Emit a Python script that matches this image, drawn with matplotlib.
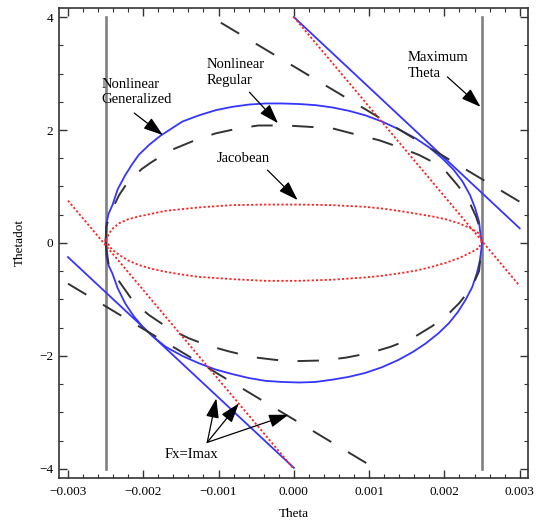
import numpy as np
import matplotlib
matplotlib.use('Agg')
import matplotlib.pyplot as plt
from matplotlib.ticker import MultipleLocator, FuncFormatter

plt.rcParams['font.family'] = ['Liberation Serif', 'DejaVu Serif']

# theta values are in units of 1e-3 (converted when plotting)
SCALE = 1e-3

# Nonlinear Generalized (blue solid closed curve)
gen_top_x = [-2.50, -2.49, -2.46, -2.41, -2.34, -2.24, -2.15, -2.06, -1.92, -1.77, -1.62, -1.48, -1.26,
             -1.04, -0.82, -0.60, -0.38, -0.16, 0.07, 0.29, 0.51, 0.73, 0.95, 1.17, 1.40, 1.62, 1.80,
             1.97, 2.12, 2.24, 2.34, 2.41, 2.46, 2.48, 2.50]
gen_top_y = [0.05, 0.35, 0.52, 0.67, 0.95, 1.20, 1.39, 1.56, 1.74, 1.90, 2.03, 2.15, 2.26,
             2.35, 2.41, 2.45, 2.47, 2.47, 2.46, 2.44, 2.40, 2.34, 2.26, 2.15, 2.01, 1.85, 1.69,
             1.50, 1.30, 1.09, 0.85, 0.61, 0.38, 0.14, 0.0]
gen_bot_x = [-2.50, -2.49, -2.46, -2.41, -2.34, -2.24, -2.13, -2.01, -1.86, -1.70, -1.48, -1.26, -1.04,
             -0.82, -0.60, -0.38, -0.16, 0.07, 0.29, 0.51, 0.73, 0.95, 1.17, 1.39, 1.58, 1.75, 1.92,
             2.06, 2.18, 2.28, 2.37, 2.43, 2.47, 2.49, 2.50]
gen_bot_y = [0.05, -0.25, -0.40, -0.54, -0.80, -1.07, -1.29, -1.48, -1.67, -1.84, -2.00, -2.13, -2.24,
             -2.32, -2.39, -2.44, -2.46, -2.47, -2.46, -2.42, -2.37, -2.30, -2.20, -2.07, -1.93, -1.78, -1.60,
             -1.42, -1.22, -1.01, -0.78, -0.54, -0.32, -0.12, 0.0]

# Nonlinear Regular (black dashed closed curve)
reg_top_x = [-2.50, -2.49, -2.45, -2.39, -2.32, -2.24, -2.15, -2.02, -1.88, -1.62, -1.31, -1.04, -0.73,
             -0.47, -0.11, 0.16, 0.51, 0.77, 1.13, 1.39, 1.66, 1.88, 2.03, 2.17, 2.28, 2.35, 2.42, 2.47, 2.50]
reg_top_y = [0.0, 0.29, 0.48, 0.66, 0.85, 1.01, 1.15, 1.31, 1.44, 1.65, 1.82, 1.94, 2.03,
             2.08, 2.08, 2.06, 2.03, 1.94, 1.82, 1.70, 1.56, 1.41, 1.25, 1.03, 0.84, 0.67, 0.47, 0.27, 0.0]
reg_bot_x = [-2.50, -2.46, -2.41, -2.32, -2.22, -2.13, -1.93, -1.64, -1.39, -1.13, -0.86, -0.55, -0.24,
             0.07, 0.38, 0.69, 1.00, 1.28, 1.57, 1.84, 2.08, 2.20, 2.30, 2.39, 2.46, 2.50]
reg_bot_y = [0.0, -0.39, -0.50, -0.68, -0.87, -1.04, -1.27, -1.53, -1.69, -1.82, -1.92, -2.02, -2.07,
             -2.09, -2.08, -2.03, -1.95, -1.84, -1.69, -1.47, -1.22, -1.06, -0.89, -0.71, -0.50, 0.0]

# Jacobean (red dotted closed curve)
jac_top_x = [-2.50, -2.42, -2.32, -2.20, -2.06, -1.88, -1.70, -1.48, -1.26, -0.82, -0.38, 0.07,
             0.51, 0.95, 1.17, 1.39, 1.62, 1.84, 2.02, 2.19, 2.35, 2.46, 2.50]
jac_top_y = [0.05, 0.24, 0.35, 0.42, 0.47, 0.52, 0.57, 0.60, 0.63, 0.67, 0.68, 0.68,
             0.67, 0.64, 0.61, 0.57, 0.52, 0.47, 0.42, 0.35, 0.26, 0.17, 0.05]
jac_bot_x = [-2.50, -2.42, -2.32, -2.20, -2.06, -1.88, -1.70, -1.48, -1.26, -0.82, -0.38, 0.07,
             0.51, 0.95, 1.17, 1.39, 1.62, 1.84, 2.02, 2.19, 2.35, 2.46, 2.50]
jac_bot_y = [0.05, -0.11, -0.21, -0.31, -0.39, -0.46, -0.51, -0.56, -0.60, -0.64, -0.67, -0.67,
             -0.65, -0.61, -0.58, -0.54, -0.49, -0.42, -0.35, -0.27, -0.17, -0.09, 0.05]

# Fx=Imax tangent lines
blue_up_x, blue_up_y = [0.0, 3.0], [4.0, 0.26]
blue_lo_x, blue_lo_y = [-3.0, 0.0], [-0.25, -3.98]
red_up_x, red_up_y = [0.0, 3.0], [4.0, -0.76]
red_lo_x, red_lo_y = [-3.0, 0.0], [0.75, -4.0]
dash_up_x, dash_up_y = [-0.97, 3.0], [3.90, 0.73]
dash_lo_x, dash_lo_y = [-3.0, 0.98], [-0.72, -3.91]

# maximum theta
max_theta = [-2.5, 2.5]
max_theta_y = [-4.0, 4.0]


def sx(vals):
    return np.asarray(vals) * SCALE


fig = plt.figure(figsize=(5.36, 5.26), dpi=100)
ax = fig.add_axes([0.110, 0.0913, 0.875, 0.8935])

blue = '#3535ff'
red = '#ff2020'
dark = '#333333'

for xv in max_theta:
    ax.plot(sx([xv, xv]), max_theta_y, color='#808080', lw=1.9, zorder=1)

ax.plot(sx(gen_top_x), gen_top_y, color=blue, lw=1.3)
ax.plot(sx(gen_bot_x), gen_bot_y, color=blue, lw=1.3)
ax.plot(sx(blue_up_x), blue_up_y, color=blue, lw=1.3)
ax.plot(sx(blue_lo_x), blue_lo_y, color=blue, lw=1.3)

dash = (0, (11, 10))
ax.plot(sx(reg_top_x), reg_top_y, color=dark, lw=1.4, linestyle=dash)
ax.plot(sx(reg_bot_x), reg_bot_y, color=dark, lw=1.4, linestyle=dash)
ax.plot(sx(dash_up_x), dash_up_y, color=dark, lw=1.4, linestyle=dash)
ax.plot(sx(dash_lo_x), dash_lo_y, color=dark, lw=1.4, linestyle=dash)

dot = (0, (1.2, 1.2))
ax.plot(sx(jac_top_x), jac_top_y, color=red, lw=1.3, linestyle=dot)
ax.plot(sx(jac_bot_x), jac_bot_y, color=red, lw=1.3, linestyle=dot)
ax.plot(sx(red_up_x), red_up_y, color=red, lw=1.3, linestyle=dot)
ax.plot(sx(red_lo_x), red_lo_y, color=red, lw=1.3, linestyle=dot)

# annotations
arrow = dict(arrowstyle='-|>,head_length=0.6,head_width=0.2', mutation_scale=20,
             color='black', lw=0.9, shrinkA=0, shrinkB=0)
fs = 10.5
labels = [
    ('Nonlinear\nGeneralized', (-2.55, 2.67), (-2.12, 2.30), (-1.74, 1.91)),
    ('Nonlinear\nRegular', (-1.16, 3.02), (-0.59, 2.67), (-0.21, 2.12)),
    ('Jacobean', (-1.02, 1.50), (-0.35, 1.29), (0.05, 0.76)),
    ('Maximum\nTheta', (1.51, 3.14), (2.04, 2.94), (2.48, 2.41)),
]
for txt, tpos, start, tip in labels:
    ax.text(tpos[0] * SCALE, tpos[1], txt, fontsize=fs, ha='left', va='center',
            linespacing=1.25)
    ax.annotate('', xy=(tip[0] * SCALE, tip[1]), xytext=(start[0] * SCALE, start[1]),
                arrowprops=arrow)

fx_start = (-1.15, -3.53)
fx_tips = [(-1.03, -2.75), (-0.73, -2.84), (-0.07, -3.04)]
ax.text(-1.36 * SCALE, -3.75, 'Fx=Imax', fontsize=fs, ha='center', va='center')
for tip in fx_tips:
    ax.annotate('', xy=(tip[0] * SCALE, tip[1]),
                xytext=(fx_start[0] * SCALE, fx_start[1]), arrowprops=arrow)

ax.set_xlim(-3.12 * SCALE, 3.11 * SCALE)
ax.set_ylim(-4.16, 4.16)

ax.xaxis.set_major_locator(MultipleLocator(0.001))
ax.xaxis.set_minor_locator(MultipleLocator(0.0002))
ax.yaxis.set_major_locator(MultipleLocator(2))
ax.yaxis.set_minor_locator(MultipleLocator(0.5))


def xfmt(v, _):
    if abs(v) < 1e-9:
        v = 0.0
    return f'{v:.3f}'.replace('-', '\u2212')


def yfmt(v, _):
    return f'{v:.0f}'.replace('-', '\u2212')


ax.xaxis.set_major_formatter(FuncFormatter(xfmt))
ax.yaxis.set_major_formatter(FuncFormatter(yfmt))
ax.tick_params(which='both', direction='in', top=True, right=True, labelsize=9.5,
               color='#333333')
ax.tick_params(which='major', length=5.5, width=1.0)
ax.tick_params(which='minor', length=3, width=0.8)
ax.tick_params(axis='x', pad=6)
ax.tick_params(axis='y', pad=4)
for sp in ax.spines.values():
    sp.set_linewidth(1.2)
    sp.set_color('#333333')

ax.set_xlabel('Theta', fontsize=9.5, labelpad=7)
ax.set_ylabel('Thetadot', fontsize=9.5, labelpad=10)

fig.savefig('out.png', dpi=100)
